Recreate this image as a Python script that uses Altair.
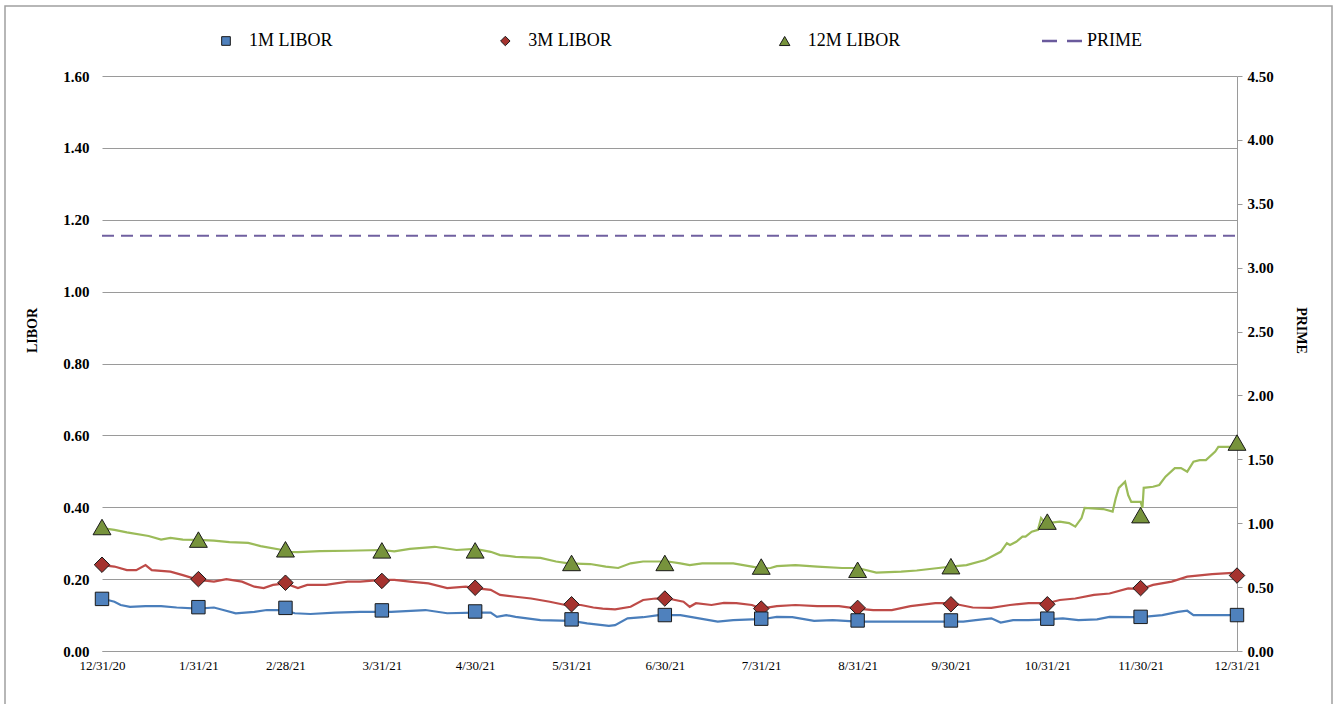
import altair as alt
import pandas as pd

# ---------------- data ----------------
series_names = ["1M LIBOR", "3M LIBOR", "12M LIBOR", "PRIME"]
start_date = "2020-12-31"

# line vertices: days after 12/31/20 and values
m1_days = [0, 4, 6, 9, 14, 19, 24, 31, 36, 39, 43, 49, 53, 58, 62, 67, 75, 83, 93, 104,
           111, 120, 125, 127, 130, 133, 141, 151, 156, 163, 165, 169, 174, 179, 186, 192, 198, 203, 209, 212,
           217, 222, 229, 235, 243, 251, 262, 272, 277, 281, 286, 289, 293, 298, 304, 309, 314, 320, 324, 331,
           334, 341, 346, 349, 351, 357, 365]
m1_vals = [0.146, 0.137, 0.128, 0.123, 0.125, 0.125, 0.121, 0.118, 0.121, 0.114, 0.105, 0.109, 0.114, 0.114, 0.105, 0.103, 0.107, 0.109, 0.109, 0.114,
           0.105, 0.107, 0.107, 0.095, 0.100, 0.095, 0.086, 0.084, 0.077, 0.070, 0.072, 0.091, 0.094, 0.100, 0.100, 0.091, 0.082, 0.086, 0.088, 0.088,
           0.095, 0.094, 0.084, 0.086, 0.082, 0.082, 0.082, 0.082, 0.082, 0.086, 0.091, 0.079, 0.086, 0.086, 0.088, 0.091, 0.086, 0.088, 0.095, 0.094,
           0.094, 0.100, 0.109, 0.112, 0.100, 0.100, 0.100]

m3_days = [0, 4, 8, 11, 14, 16, 22, 26, 31, 36, 40, 45, 49, 52, 55, 59, 63, 66, 72, 79,
           83, 90, 94, 99, 105, 111, 117, 120, 125, 128, 133, 138, 144, 149, 154, 158, 161, 165, 170, 174,
           178, 182, 187, 189, 191, 196, 200, 204, 209, 212, 217, 223, 230, 237, 243, 248, 254, 260, 268, 273,
           276, 280, 286, 292, 298, 304, 308, 313, 319, 324, 330, 334, 338, 344, 349, 357, 365]
m3_vals = [0.239, 0.235, 0.225, 0.225, 0.239, 0.225, 0.221, 0.211, 0.198, 0.193, 0.200, 0.193, 0.179, 0.175, 0.184, 0.188, 0.175, 0.184, 0.184, 0.193,
           0.193, 0.198, 0.198, 0.193, 0.188, 0.175, 0.179, 0.175, 0.170, 0.156, 0.151, 0.146, 0.137, 0.128, 0.128, 0.121, 0.118, 0.116, 0.123, 0.142,
           0.146, 0.146, 0.137, 0.123, 0.133, 0.128, 0.134, 0.133, 0.128, 0.118, 0.125, 0.128, 0.125, 0.125, 0.118, 0.114, 0.114, 0.125, 0.133, 0.133,
           0.128, 0.121, 0.120, 0.128, 0.133, 0.133, 0.142, 0.146, 0.156, 0.160, 0.174, 0.172, 0.184, 0.193, 0.207, 0.214, 0.218]

m12_days = [0, 4, 8, 15, 19, 22, 26, 31, 36, 41, 47, 51, 58, 60, 63, 70, 79, 90, 94, 99,
            107, 114, 120, 125, 128, 133, 141, 146, 150, 157, 162, 166, 170, 174, 182, 186, 189, 193, 203, 209,
            212, 215, 217, 223, 230, 238, 243, 249, 257, 262, 269, 273, 278, 284, 286, 289, 291, 292, 294, 296,
            297, 299, 301, 302, 303, 304, 308, 311, 313, 315, 316, 322, 325, 326, 327, 329, 330, 331, 334, 334.6,
            335, 338, 340, 342, 345, 347, 349, 351, 353, 355, 358, 359, 365]
m12_vals = [0.342, 0.337, 0.330, 0.320, 0.310, 0.315, 0.310, 0.309, 0.307, 0.303, 0.301, 0.292, 0.281, 0.276, 0.275, 0.278, 0.279, 0.281, 0.277, 0.284,
            0.290, 0.281, 0.284, 0.276, 0.267, 0.262, 0.259, 0.249, 0.244, 0.242, 0.235, 0.231, 0.244, 0.249, 0.249, 0.244, 0.239, 0.244, 0.244, 0.235,
            0.230, 0.231, 0.236, 0.239, 0.235, 0.231, 0.231, 0.218, 0.221, 0.224, 0.231, 0.235, 0.239, 0.253, 0.262, 0.276, 0.300, 0.295, 0.304, 0.318,
            0.318, 0.332, 0.337, 0.370, 0.360, 0.356, 0.360, 0.356, 0.346, 0.370, 0.398, 0.395, 0.388, 0.425, 0.454, 0.471, 0.434, 0.415, 0.415, 0.398,
            0.454, 0.457, 0.462, 0.485, 0.509, 0.509, 0.499, 0.527, 0.531, 0.531, 0.555, 0.568, 0.568]

# month-end marker values
month_ends = ["2020-12-31", "2021-01-31", "2021-02-28", "2021-03-31", "2021-04-30", "2021-05-31", "2021-06-30",
              "2021-07-31", "2021-08-31", "2021-09-30", "2021-10-31", "2021-11-30", "2021-12-31"]
m1_marks = [0.145, 0.122, 0.120, 0.113, 0.110, 0.088, 0.100, 0.090, 0.085, 0.085, 0.090, 0.095, 0.100]
m3_marks = [0.240, 0.200, 0.190, 0.195, 0.176, 0.130, 0.146, 0.118, 0.120, 0.130, 0.130, 0.175, 0.210]
m12_marks = [0.345, 0.310, 0.283, 0.280, 0.280, 0.245, 0.245, 0.235, 0.226, 0.236, 0.360, 0.378, 0.580]

prime_dates = ["2020-12-31", "2021-12-31"]
prime_vals = [3.25, 3.25]

left_ticks = [0.0, 0.2, 0.4, 0.6, 0.8, 1.0, 1.2, 1.4, 1.6]
right_ticks = [0.0, 0.5, 1.0, 1.5, 2.0, 2.5, 3.0, 3.5, 4.0, 4.5]

# ---------------- tables ----------------
base = pd.Timestamp(start_date)


def line_df(name, days, vals):
    return pd.DataFrame({"date": [base + pd.Timedelta(days=d) for d in days],
                         "value": vals, "series": name})


lines_df = pd.concat([line_df("12M LIBOR", m12_days, m12_vals),
                      line_df("3M LIBOR", m3_days, m3_vals),
                      line_df("1M LIBOR", m1_days, m1_vals)], ignore_index=True)

me = pd.to_datetime(month_ends)
mk1 = pd.DataFrame({"date": me, "value": m1_marks, "series": "1M LIBOR"})
mk3 = pd.DataFrame({"date": me, "value": m3_marks, "series": "3M LIBOR"})
mk12 = pd.DataFrame({"date": me, "value": m12_marks, "series": "12M LIBOR"})

prime_df = pd.DataFrame({"date": pd.to_datetime(prime_dates), "prime": prime_vals})
legend_df = pd.DataFrame({"series": series_names})

# ---------------- styling ----------------
FONT = "Liberation Serif"
GRID = "#9a9a9a"
line_colors = ["#4a7ebb", "#be4b48", "#9bbb59", "#7060a0"]
fill_colors = ["#4f81bd", "#a5332f", "#77933c", "#6a5a9c"]
stroke_colors = ["#1a1a1a", "#1a1a1a", "#1a1a1a", "transparent"]
prime_symbol = "M-4.4,-0.24H-1.4V0.24H-4.4Z M0.6,-0.24H3.6V0.24H0.6Z"
shapes = ["square", "diamond", "triangle-up", prime_symbol]

W, H = 1135, 575

shape_scale = alt.Scale(domain=series_names, range=shapes)
fill_scale = alt.Scale(domain=series_names, range=fill_colors)
stroke_scale = alt.Scale(domain=series_names, range=stroke_colors)

date_vals = [alt.DateTime(year=d.year, month=d.month, date=d.day) for d in me]
x_scale = alt.Scale(domain=[date_vals[0], date_vals[-1]])
x_axis = alt.Axis(values=date_vals, format="%-m/%-d/%y", title=None,
                  grid=False, ticks=False, domain=True, domainColor=GRID,
                  labelFont=FONT, labelFontSize=13, labelColor="#000",
                  labelPadding=8, labelFlush=False, labelOverlap=False)

left_axis = alt.Axis(values=left_ticks, format=".2f", title="LIBOR",
                     grid=True, gridColor=GRID, gridWidth=1,
                     domain=False, ticks=False, labelPadding=13,
                     labelFont=FONT, labelFontSize=15, labelFontWeight="bold",
                     labelColor="#000",
                     titleFont=FONT, titleFontSize=14, titleFontWeight="bold",
                     titleColor="#000", titleAngle=270, titleX=-70, titleY=254,
                     titleAlign="center", titleBaseline="middle")
left_scale = alt.Scale(domain=[0, 1.6], nice=False, zero=True)

lines = alt.Chart(lines_df).mark_line(strokeWidth=2.2, interpolate="linear").encode(
    x=alt.X("date:T", scale=x_scale, axis=x_axis),
    y=alt.Y("value:Q", scale=left_scale, axis=left_axis),
    color=alt.Color("series:N", scale=alt.Scale(domain=series_names, range=line_colors), legend=None),
    detail="series:N",
)


def marker_layer(df, size):
    return alt.Chart(df).mark_point(filled=True, opacity=1, strokeWidth=1, size=size).encode(
        x=alt.X("date:T", scale=x_scale, axis=None),
        y=alt.Y("value:Q", scale=left_scale, axis=None),
        shape=alt.Shape("series:N", scale=shape_scale, legend=None),
        fill=alt.Fill("series:N", scale=fill_scale, legend=None),
        stroke=alt.Stroke("series:N", scale=stroke_scale, legend=None),
    )


prime = alt.Chart(prime_df).mark_line(strokeWidth=2, strokeDash=[12, 7], color="#7060a0").encode(
    x=alt.X("date:T", scale=x_scale, axis=None),
    y=alt.Y("prime:Q",
            scale=alt.Scale(domain=[0, 4.5], nice=False, zero=True),
            axis=alt.Axis(orient="right", values=right_ticks, format=".2f", title="PRIME",
                          grid=False, domain=True, domainColor=GRID, ticks=True, tickColor=GRID,
                          tickSize=5, labelPadding=5,
                          labelFont=FONT, labelFontSize=15, labelFontWeight="bold", labelColor="#000",
                          titleFont=FONT, titleFontSize=14, titleFontWeight="bold", titleColor="#000",
                          titleAngle=90, titleX=63, titleY=254,
                          titleAlign="center", titleBaseline="middle")),
)

# legend drawn from the series list through a point scale along the top
legend_x = alt.X("series:N", sort=series_names,
                 scale=alt.Scale(type="point", domain=series_names, range=[124, 962], padding=0),
                 axis=None)
legend_symbols = alt.Chart(legend_df).mark_point(filled=True, opacity=1, strokeWidth=1).transform_calculate(
    lsize="datum.series == 'PRIME' ? 100 : (datum.series == '12M LIBOR' ? 110 : (datum.series == '3M LIBOR' ? 90 : 75))"
).encode(
    x=legend_x,
    y=alt.value(-35),
    shape=alt.Shape("series:N", scale=shape_scale, legend=None),
    fill=alt.Fill("series:N", scale=fill_scale, legend=None),
    stroke=alt.Stroke("series:N", scale=stroke_scale, legend=None),
    size=alt.Size("lsize:Q", scale=None, legend=None),
)
legend_labels = alt.Chart(legend_df).mark_text(
    align="left", baseline="middle", dx=23, font=FONT, fontSize=18, color="#000"
).encode(x=legend_x, y=alt.value(-35), text="series:N")

frame = alt.Chart(pd.DataFrame({"k": [0]})).mark_rect(fill="transparent", stroke="#a0a0a0", strokeWidth=1.5).encode(
    x=alt.value(-97), x2=alt.value(1230), y=alt.value(-70), y2=alt.value(640)
)

chart = alt.layer(
    lines, prime,
    marker_layer(mk12, 320), marker_layer(mk3, 240), marker_layer(mk1, 180),
    legend_symbols, legend_labels,
    frame,
).resolve_scale(y="independent", x="independent").properties(
    width=W, height=H,
    autosize=alt.AutoSizeParams(type="none"),
    padding={"left": 102, "top": 76, "right": 1339 - 102 - W, "bottom": 704 - 76 - H},
    background="white",
).configure_view(stroke=None)

chart.save("out.html", embed_options={"renderer": "svg", "actions": False})
